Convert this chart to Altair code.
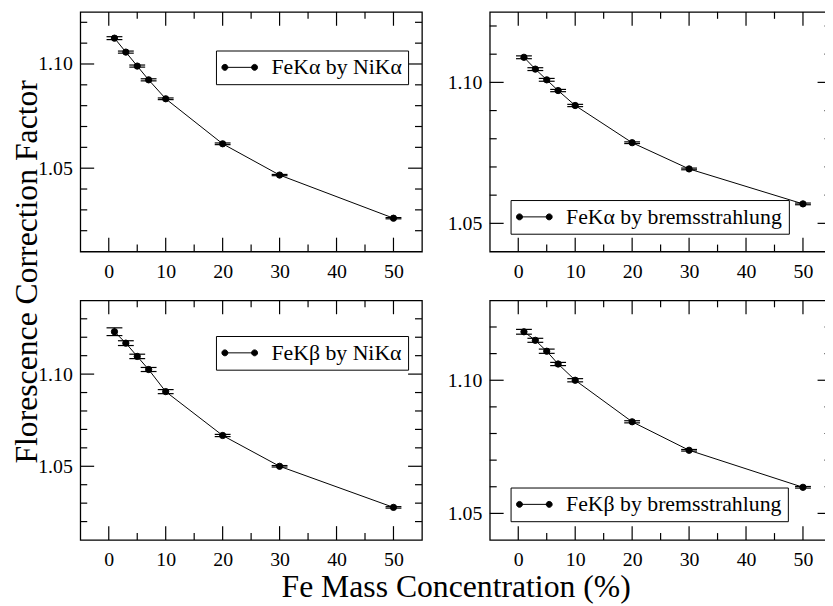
import altair as alt
import pandas as pd
import numpy as np

# ---- data ----
x_vals = [1, 3, 5, 7, 10, 20, 30, 50]

ka_ni = [1.1124, 1.1057, 1.0990, 1.0924, 1.0833, 1.0617, 1.0467, 1.0260]
ka_ni_err = [0.0007, 0.0005, 0.0005, 0.0005, 0.0004, 0.0004, 0.0003, 0.0003]

ka_br = [1.1089, 1.1047, 1.1009, 1.0971, 1.0918, 1.0786, 1.0693, 1.0569]
ka_br_err = [0.0005, 0.0005, 0.0005, 0.0004, 0.0004, 0.0003, 0.0003, 0.0003]

kb_ni = [1.1230, 1.1168, 1.1096, 1.1025, 1.0905, 1.0667, 1.0500, 1.0277]
kb_ni_err = [0.0021, 0.0013, 0.0012, 0.0011, 0.0011, 0.0006, 0.0004, 0.0004]

kb_br = [1.1182, 1.1150, 1.1109, 1.1061, 1.1000, 1.0844, 1.0737, 1.0598]
kb_br_err = [0.0009, 0.00075, 0.0008, 0.0006, 0.0006, 0.0004, 0.0003, 0.0003]

names = ["FeKα by NiKα", "FeKα by bremsstrahlung",
         "FeKβ by NiKα", "FeKβ by bremsstrahlung"]
x_title = "Fe Mass Concentration (%)"
y_title = "Florescence Correction Factor"

x_domain = [-5, 55]
x_major = [0, 10, 20, 30, 40, 50]
x_minor = [5, 15, 25, 35, 45]
y_major = [1.05, 1.10]

ydom_tl = [1.01, 1.125]
ydom_tr = [1.04, 1.125]
ydom_bl = [1.01, 1.14]
ydom_br = [1.04, 1.13]
yminor_tl = [1.02, 1.03, 1.04, 1.06, 1.07, 1.08, 1.09, 1.11, 1.12]
yminor_tr = [1.06, 1.07, 1.08, 1.09, 1.11, 1.12]
yminor_bl = [1.02, 1.03, 1.04, 1.06, 1.07, 1.08, 1.09, 1.11, 1.12, 1.13]
yminor_br = [1.06, 1.07, 1.08, 1.09, 1.11, 1.12]

W, H = 345, 242
FONT = "Liberation Serif"
MAJ, MIN = 14, 7
TW = 1.2

LEG_PATH = ("M-2.5,0L2.5,0"
            "M-3,0a0.5,0.5 0 1,0 1,0a0.5,0.5 0 1,0 -1,0Z"
            "M2,0a0.5,0.5 0 1,0 1,0a0.5,0.5 0 1,0 -1,0Z")


def x_axis(title=None):
    kw = dict(values=x_major, format="d", ticks=False, domain=False, grid=False,
              labelPadding=10, labelFlush=False, labelFont=FONT, labelFontSize=20,
              labelColor="black")
    if title:
        kw.update(title=title, titleX=379, titleY=57, titleAlign="center",
                  titleBaseline="alphabetic", titleFont=FONT, titleFontSize=32,
                  titleFontWeight="normal", titleColor="black")
    else:
        kw.update(title=None)
    return alt.Axis(**kw)


def y_axis(title=None):
    kw = dict(values=y_major, format=".2f", ticks=False, domain=False, grid=False,
              labelPadding=8, labelFlush=False, labelFont=FONT, labelFontSize=20,
              labelColor="black")
    if title:
        kw.update(title=title, titleX=-44, titleY=262, titleAngle=270,
                  titleAlign="center", titleBaseline="alphabetic", titleFont=FONT,
                  titleFontSize=32, titleFontWeight="normal", titleColor="black")
    else:
        kw.update(title=None)
    return alt.Axis(**kw)


def panel(name, yv, ye, ydom, yminor, lx, ly, xt=None, yt=None):
    yv = np.array(yv)
    ye = np.array(ye)
    df = pd.DataFrame({"x": x_vals, "y": yv, "lo": yv - ye, "hi": yv + ye,
                       "s": [name] * len(x_vals)})
    xs = alt.Scale(domain=x_domain, nice=False, zero=False)
    ys = alt.Scale(domain=ydom, nice=False, zero=False)
    XA = x_axis(xt)
    YA = y_axis(yt)

    def X(f):
        return alt.X(f, scale=xs, axis=XA)

    def Y(f):
        return alt.Y(f, scale=ys, axis=YA)

    base = alt.Chart(df)
    line = base.mark_line(color="black", strokeWidth=1).encode(X("x:Q"), Y("y:Q"))
    err = base.mark_rule(color="black", strokeWidth=1).encode(
        X("x:Q"), Y("lo:Q"), alt.Y2("hi:Q"))
    cap_lo = base.mark_tick(orient="horizontal", size=16, thickness=1.2, color="black",
                            opacity=1).encode(X("x:Q"), Y("lo:Q"))
    cap_hi = base.mark_tick(orient="horizontal", size=16, thickness=1.2, color="black",
                            opacity=1).encode(X("x:Q"), Y("hi:Q"))
    pts = base.mark_point(filled=True, size=40, opacity=1, stroke="black",
                          strokeWidth=1).encode(
        X("x:Q"), Y("y:Q"),
        color=alt.Color("s:N", scale=alt.Scale(range=["black"]),
                        legend=alt.Legend(orient="none", legendX=lx, legendY=ly,
                                          title=None, symbolType=LEG_PATH,
                                          symbolSize=144, symbolOffset=7,
                                          labelOffset=21, labelFont=FONT,
                                          labelFontSize=22, labelColor="black",
                                          labelLimit=0, strokeColor="black",
                                          fillColor="white", padding=6,
                                          symbolStrokeColor="black",
                                          symbolFillColor="black",
                                          symbolStrokeWidth=1)))

    xmaj = alt.Chart(pd.DataFrame({"v": x_major}))
    xmin = alt.Chart(pd.DataFrame({"v": x_minor}))
    ymaj = alt.Chart(pd.DataFrame({"v": y_major}))
    ymin = alt.Chart(pd.DataFrame({"v": yminor}))
    tk = dict(color="black", strokeWidth=TW)
    ticks = [
        xmaj.mark_rule(**tk).encode(X("v:Q"), y=alt.value(H), y2=alt.value(H - MAJ)),
        xmaj.mark_rule(**tk).encode(X("v:Q"), y=alt.value(0), y2=alt.value(MAJ)),
        xmin.mark_rule(**tk).encode(X("v:Q"), y=alt.value(H), y2=alt.value(H - MIN)),
        xmin.mark_rule(**tk).encode(X("v:Q"), y=alt.value(0), y2=alt.value(MIN)),
        ymaj.mark_rule(**tk).encode(Y("v:Q"), x=alt.value(0), x2=alt.value(MAJ)),
        ymaj.mark_rule(**tk).encode(Y("v:Q"), x=alt.value(W), x2=alt.value(W - MAJ)),
        ymin.mark_rule(**tk).encode(Y("v:Q"), x=alt.value(0), x2=alt.value(MIN)),
        ymin.mark_rule(**tk).encode(Y("v:Q"), x=alt.value(W), x2=alt.value(W - MIN)),
    ]
    return alt.layer(line, *ticks, err, cap_lo, cap_hi, pts).properties(width=W, height=H)


tl = panel(names[0], ka_ni, ka_ni_err, ydom_tl, yminor_tl, 137, 39, yt=y_title)
tr = panel(names[1], ka_br, ka_br_err, ydom_tr, yminor_tr, 21, 190)
bl = panel(names[2], kb_ni, kb_ni_err, ydom_bl, yminor_bl, 137, 36, xt=x_title)
br = panel(names[3], kb_br, kb_br_err, ydom_br, yminor_br, 21, 189)

# fixed page placement: plot area of the first panel at (81, 9) on the page,
# whole picture 825 x 598 so that the right panel is cut at the window edge
chart = alt.concat(tl, tr, bl, br, columns=2,
                   spacing=alt.RowColnumber(row=49.3, column=68.5), bounds="flush",
                   autosize=alt.AutoSizeParams(type="none"),
                   padding={"left": 73, "top": 1, "right": 752, "bottom": 597}
                   ).resolve_scale(color="independent").resolve_legend(color="independent")

chart = chart.configure_axis(labelFont=FONT, labelFontSize=20, labelColor="black"
                             ).configure_view(stroke="black", strokeWidth=1.3)

chart.save("out.html", embed_options={"renderer": "svg", "actions": False})
